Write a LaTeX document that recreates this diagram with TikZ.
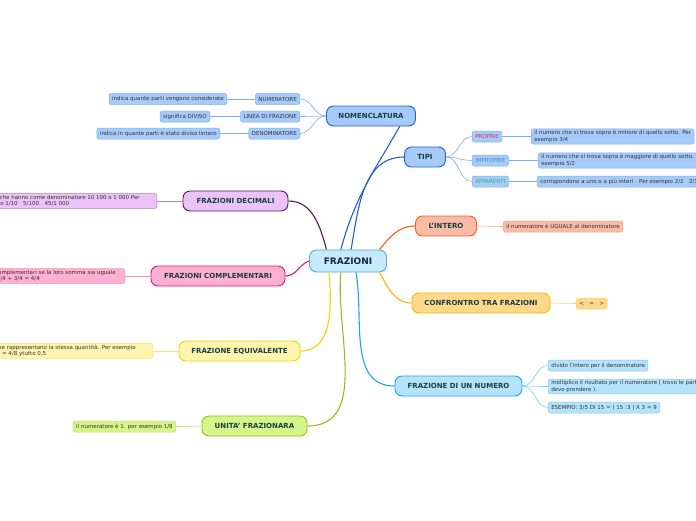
\documentclass[tikz,border=0pt]{standalone}
\usepackage{fontspec}
\setmainfont{DejaVu Sans}
\usetikzlibrary{positioning}
\definecolor{rootfill}{HTML}{C8EBFB}
\definecolor{rootborder}{HTML}{4FA8DF}
\definecolor{roottext}{HTML}{16264A}
\definecolor{titletext}{HTML}{173F3F}
\definecolor{leaftext}{HTML}{333333}
\definecolor{nomenfill}{HTML}{A6CBFA}
\definecolor{nomenborder}{HTML}{1F5FD0}
\definecolor{nomenlight}{HTML}{7FB0EE}
\definecolor{interofill}{HTML}{F9BBA5}
\definecolor{interoborder}{HTML}{FF5A1F}
\definecolor{interolight}{HTML}{F5A080}
\definecolor{confrfill}{HTML}{FFD98B}
\definecolor{confrborder}{HTML}{F7B500}
\definecolor{confrlight}{HTML}{F8CF70}
\definecolor{numfill}{HTML}{B5E3FB}
\definecolor{numborder}{HTML}{1AA5E6}
\definecolor{numlight}{HTML}{7DCBF2}
\definecolor{decfill}{HTML}{EBC3F7}
\definecolor{decborder}{HTML}{561665}
\definecolor{declight}{HTML}{B47CC4}
\definecolor{compfill}{HTML}{FFB0D0}
\definecolor{compborder}{HTML}{E8157A}
\definecolor{complight}{HTML}{F590BC}
\definecolor{equifill}{HTML}{FFF5AE}
\definecolor{equiborder}{HTML}{F2D500}
\definecolor{equilight}{HTML}{F3E27A}
\definecolor{unitfill}{HTML}{D5F58B}
\definecolor{unitborder}{HTML}{8DC21A}
\definecolor{unitlight}{HTML}{B8E066}
\definecolor{propriatext}{HTML}{D6336C}
\definecolor{impropriatext}{HTML}{3A90C8}
\definecolor{apparentitext}{HTML}{2DB56B}

\begin{document}
\begin{tikzpicture}[x=1pt, y=-1pt,
      topic/.style={draw, rounded corners=7pt, line width=0.9pt,
        minimum height=20pt, inner sep=0pt, text=titletext,
        font=\fontsize{7}{8}\selectfont\bfseries},
      sub/.style={draw, rounded corners=2pt, line width=0.5pt,
        minimum height=11pt, inner xsep=3pt, inner ysep=1.5pt,
        text=leaftext, font=\fontsize{5.5}{6.5}\selectfont},
      note/.style={sub, align=left},
      branch/.style={line width=1.1pt},
      twig/.style={line width=0.6pt}
    ]
      \useasboundingbox (0,0) rectangle (696,520);
      \clip (0,0) rectangle (696,520);
      \fill[white] (0,0) rectangle (696,520);

      \node[topic, minimum width=77pt, minimum height=22pt, fill=rootfill,
        draw=rootborder, text=roottext,
        font=\fontsize{9}{10}\selectfont\bfseries] (root) at (348,261)
        {FRAZIONI};

      \node[topic, minimum width=89pt, fill=nomenfill, draw=nomenborder]
        (nomen) at (371,116) {NOMENCLATURA};
      \node[topic, minimum width=41pt, fill=nomenfill, draw=nomenborder]
        (tipi) at (425,157) {TIPI};
      \node[topic, minimum width=61pt, fill=interofill, draw=interoborder]
        (intero) at (446,226) {L'INTERO};
      \node[topic, minimum width=138pt, fill=confrfill, draw=confrborder]
        (confronto) at (481,303) {CONFRONTRO TRA FRAZIONI};
      \node[topic, minimum width=127pt, fill=numfill, draw=numborder]
        (numero) at (458.5,386) {FRAZIONE DI UN NUMERO};
      \node[topic, minimum width=105pt, fill=decfill, draw=decborder]
        (decimali) at (235.5,201) {FRAZIONI DECIMALI};
      \node[topic, minimum width=134pt, fill=compfill, draw=compborder]
        (complementari) at (218,276) {FRAZIONI COMPLEMENTARI};
      \node[topic, minimum width=121pt, fill=equifill, draw=equiborder]
        (equivalente) at (239.5,351) {FRAZIONE EQUIVALENTE};
      \node[topic, minimum width=105pt, fill=unitfill, draw=unitborder]
        (unita) at (254.5,426) {UNITA' FRAZIONARA};

      \node[sub, anchor=east, fill=nomenfill, draw=nomenlight]
        (numeratore) at (300,99) {NUMERATORE};
      \node[sub, anchor=east, fill=nomenfill, draw=nomenlight]
        (linea) at (300,116.5) {LINEA DI FRAZIONE};
      \node[sub, anchor=east, fill=nomenfill, draw=nomenlight]
        (denominatore) at (300,133.5) {DENOMINATORE};
      \node[sub, anchor=east, fill=nomenfill, draw=nomenlight]
        (numnote) at (227,99) {indica quante parti vengono considerate};
      \node[sub, anchor=east, fill=nomenfill, draw=nomenlight]
        (lineanote) at (210,116.5) {significa DIVISO};
      \node[sub, anchor=east, fill=nomenfill, draw=nomenlight]
        (denomnote) at (220,133.5)
        {indica in quante parti è stato diviso lintero};

      \node[sub, anchor=west, fill=nomenfill, draw=nomenlight,
        text=propriatext] (proprie) at (472,136.5) {PROPRIE};
      \node[sub, anchor=west, fill=nomenfill, draw=nomenlight,
        text=impropriatext] (improprie) at (472,160.5) {IMPROPRIE};
      \node[sub, anchor=west, fill=nomenfill, draw=nomenlight,
        text=apparentitext] (apparenti) at (472,181.5) {APPARENTI};
      \node[note, anchor=west, fill=nomenfill, draw=nomenlight]
        (proprienote) at (531,136.5)
        {il numero che si trova sopra è minore di quello sotto. Per\\esempio 3/4};
      \node[note, anchor=west, fill=nomenfill, draw=nomenlight]
        (impropnote) at (538,160.5)
        {il numero che si trova sopra è maggiore di quello sotto. Per\\esempio 5/2};
      \node[sub, anchor=west, fill=nomenfill, draw=nomenlight]
        (apparnote) at (537,181.5)
        {corrispondono a uno o a più interi . Per esempio 2/2\quad 2/1};

      \node[sub, anchor=west, fill=interofill, draw=interolight]
        (interonote) at (503,226.5) {il numeratore è UGUALE al denominatore};
      \node[sub, anchor=west, fill=confrfill, draw=confrlight]
        (confrnote) at (576,303.5) {<\quad =\quad >};

      \node[sub, anchor=west, fill=numfill, draw=numlight]
        (dividonote) at (548,365.5) {divido l'intero per il denominatore};
      \node[note, anchor=west, fill=numfill, draw=numlight]
        (moltinote) at (548,386.5)
        {moltiplico il risultato per il numeratore ( trovo le parti che\\devo prendere ).};
      \node[sub, anchor=west, fill=numfill, draw=numlight]
        (esempionote) at (548,407.5) {ESEMPIO: 3/5 DI 15 = ( 15 :3 ) X 3 = 9};

      \node[note, anchor=east, fill=decfill, draw=declight]
        (decnote) at (157,201)
        {Quelle che hanno come denominatore 10 100 o 1 000 Per\hspace*{14pt}\\esempio 1/10\quad 5/100\quad 45/1 000};
      \node[note, anchor=east, fill=compfill, draw=complight]
        (compnote) at (125,276)
        {Due frazioni sono complementari se la loro somma sia uguale\hspace*{6pt}\\ad 1, per esempio 1/4 + 3/4 = 4/4};
      \node[note, anchor=east, fill=equifill, draw=equilight]
        (equinote) at (153,351)
        {Sono frazioni che rappresentano la stessa quantità. Per esempio\hspace*{14pt}\\1/2 = 2/4 = 3/6 = 4/8 ytutto 0,5};
      \node[sub, anchor=east, fill=unitfill, draw=unitlight]
        (unitnote) at (176,426.5) {il numeratore è 1. per esempio 1/8};

      \draw[branch, nomenborder] (root.122) to[out=75, in=240] (nomen.-20);
      \draw[branch, nomenborder] (root.75) to[out=80, in=180] (tipi.west);
      \draw[branch, interoborder] (root.20) to[out=50, in=180] (intero.west);
      \draw[branch, confrborder] (root.-20) to[out=-60, in=180] (confronto.west);
      \draw[branch, numborder] (root.-55) to[out=-80, in=180] (numero.west);
      \draw[branch, unitborder] (root.-122) to[out=-95, in=0] (unita.east);
      \draw[branch, equiborder] (root.-149) to[out=-85, in=0] (equivalente.east);
      \draw[branch, compborder] (root.west) to[out=200, in=0] (complementari.east);
      \draw[branch, decborder] (root.152) to[out=105, in=0] (decimali.east);

      \draw[twig, nomenlight] (nomen.west) to[out=180, in=0] (numeratore.east);
      \draw[twig, nomenlight] (nomen.west) to[out=180, in=0] (linea.east);
      \draw[twig, nomenlight] (nomen.west) to[out=180, in=0] (denominatore.east);
      \draw[twig, nomenlight] (numeratore.west) -- (numnote.east);
      \draw[twig, nomenlight] (linea.west) -- (lineanote.east);
      \draw[twig, nomenlight] (denominatore.west) -- (denomnote.east);

      \draw[twig, nomenlight] (tipi.east) to[out=0, in=180] (proprie.west);
      \draw[twig, nomenlight] (tipi.east) to[out=0, in=180] (improprie.west);
      \draw[twig, nomenlight] (tipi.east) to[out=0, in=180] (apparenti.west);
      \draw[twig, nomenlight] (proprie.east) -- (proprienote.west);
      \draw[twig, nomenlight] (improprie.east) -- (impropnote.west);
      \draw[twig, nomenlight] (apparenti.east) -- (apparnote.west);

      \draw[twig, interolight] (intero.east) -- (interonote.west);
      \draw[twig, confrlight] (confronto.east) -- (confrnote.west);
      \draw[twig, numlight] (numero.east) to[out=0, in=180] (dividonote.west);
      \draw[twig, numlight] (numero.east) to[out=0, in=180] (moltinote.west);
      \draw[twig, numlight] (numero.east) to[out=0, in=180] (esempionote.west);

      \draw[twig, declight] (decimali.west) -- (decnote.east);
      \draw[twig, complight] (complementari.west) -- (compnote.east);
      \draw[twig, equilight] (equivalente.west) -- (equinote.east);
      \draw[twig, unitlight] (unita.west) -- (unitnote.east);
    \end{tikzpicture}
\end{document}
